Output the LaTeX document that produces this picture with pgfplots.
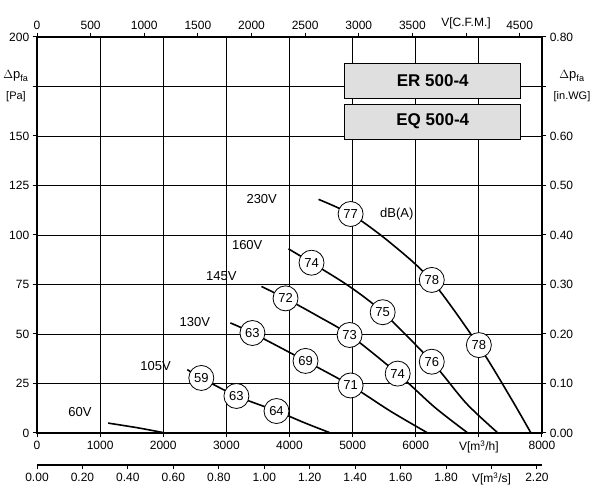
\documentclass[border=0pt]{standalone}
\usepackage{fontspec}
\setmainfont{Liberation Sans}
\usepackage{pgfplots}
\pgfplotsset{compat=1.18}
\begin{document}
\begin{tikzpicture}
\useasboundingbox (0,0) rectangle (600pt,500pt);
\pgfplotsset{every axis/.append style={scale only axis,width=505pt,height=396pt,
  /pgf/number format/assume math mode=true, tick label style={font=\fontsize{12}{13}\selectfont}, tick style={black,line width=1pt}}}
% main axis
\begin{axis}[at={(37pt,67pt)},anchor=south west,
  xmin=0,xmax=8000,ymin=0,ymax=200,
  xtick={0,1000,...,8000}, xticklabels={0,1000,2000,3000,4000,5000,6000,{V[m\textsuperscript{3}/h]},8000},
  ytick={0,25,...,200}, yticklabels={0,25,50,75,100,125,150,,200},
  xtick pos=bottom, ytick pos=left, unbounded coords=jump,
  axis line style={line width=1.2pt}, tick align=outside,
  clip=false]
\addplot[black,line width=0.9pt] coordinates {(1000,0)(1000,200) (nan,nan) (2000,0)(2000,200) (nan,nan) (3000,0)(3000,200) (nan,nan) (4000,0)(4000,200) (nan,nan) (5000,0)(5000,200) (nan,nan) (6000,0)(6000,200) (nan,nan) (7000,0)(7000,200)};
\addplot[black,line width=0.9pt] coordinates {(0,25)(8000,25) (nan,nan) (0,50)(8000,50) (nan,nan) (0,75)(8000,75) (nan,nan) (0,100)(8000,100) (nan,nan) (0,125)(8000,125) (nan,nan) (0,150)(8000,150) (nan,nan) (0,175)(8000,175)};
\addplot[line width=1.6pt,smooth] coordinates {(4460,118)(5000,110)(5600,96)(6250,77)(7000,44)(7500,18)(7825,0)};
\addplot[line width=1.6pt,smooth] coordinates {(3984,93)(4349,86)(4950,74)(5476,61)(6254,36)(6800,15)(7302,0)};
\addplot[line width=1.6pt,smooth] coordinates {(3556,74)(3937,68)(4450,59)(4952,49.5)(5714,30)(6300,13)(6825,0)};
\addplot[line width=1.6pt,smooth] coordinates {(3063,55.6)(3413,50.5)(4254,36.4)(4968,24)(5600,11)(6190,0)};
\addplot[line width=1.6pt,smooth] coordinates {(2381,32)(2603,27.8)(3159,18.7)(3794,11.1)(4250,5)(4651,0)};
\addplot[line width=1.6pt,smooth] coordinates {(1127,5)(1600,2.6)(2032,0)};
\addplot[only marks, mark=*, mark size=12.5pt, mark options={fill=white,draw=black,line width=0.8pt},
  nodes near coords, point meta=explicit symbolic, nodes near coords align={center},
  every node near coord/.append style={font=\fontsize{13}{13}\selectfont}]
  table[meta=l] {
x y l
4968 110.6 77
6254 77.3 78
7000 44.4 78
4349 86 74
5476 61 75
6254 36 76
3937 68 72
4952 49.5 73
5714 30 74
3413 50.5 63
4254 36.4 69
4968 24 71
2603 27.8 59
3159 18.7 63
3794 11.1 64
};
\node[font=\fontsize{13}{13}\selectfont] at (axis cs:3560,118) {230V};
\node[font=\fontsize{13}{13}\selectfont] at (axis cs:3330,95) {160V};
\node[font=\fontsize{13}{13}\selectfont] at (axis cs:2920,79) {145V};
\node[font=\fontsize{13}{13}\selectfont] at (axis cs:2500,56) {130V};
\node[font=\fontsize{13}{13}\selectfont] at (axis cs:1880,34) {105V};
\node[font=\fontsize{13}{13}\selectfont] at (axis cs:680,10.5) {60V};
\node[font=\fontsize{13}{13}\selectfont,anchor=west] at (axis cs:5380,110.6) {dB(A)};
\node[draw,fill=gray!25,line width=0.8pt,minimum width=176pt,minimum height=35pt,font=\bfseries\fontsize{17}{17}\selectfont] at (axis cs:6270,178) {ER 500-4};
\node[draw,fill=gray!25,line width=0.8pt,minimum width=176pt,minimum height=35pt,font=\bfseries\fontsize{17}{17}\selectfont] at (axis cs:6270,157.3) {EQ 500-4};
\end{axis}
% right axis
\begin{axis}[at={(37pt,67pt)},anchor=south west, xmin=0,xmax=8000,ymin=0,ymax=0.8,
  axis y line*=right, hide x axis, ytick={0,0.1,...,0.8},
  yticklabels={0.00,0.10,0.20,0.30,0.40,0.50,0.60,,0.80}, tick align=outside,
  axis line style={line width=1.2pt}]
\end{axis}
% top axis
\begin{axis}[at={(37pt,67pt)},anchor=south west, xmin=0,xmax=4708.6,ymin=0,ymax=1,
  axis x line*=top, hide y axis, xtick={0,500,...,4500}, tick align=outside,
  axis line style={line width=1.2pt},
  xticklabels={0,500,1000,1500,2000,2500,3000,3500,{V[C.F.M.]},4500}]
\end{axis}
% second bottom axis m3/s
\begin{axis}[at={(37pt,35pt)},anchor=south west, height=1pt, xmin=0,xmax=2.2222,ymin=0,ymax=1,
  axis x line*=bottom, hide y axis, xtick={0,0.2,...,2.2}, tick align=outside,
  axis line style={line width=1.2pt},
  xticklabels={0.00,0.20,0.40,0.60,0.80,1.00,1.20,1.40,1.60,1.80,{V[m\textsuperscript{3}/s]},2.20}]
\end{axis}
\node[font=\fontsize{13}{13}\selectfont] at (16pt,424pt) {$\Delta$p\textsubscript{fa}};
\node[font=\fontsize{11}{11}\selectfont] at (16pt,403pt) {[Pa]};
\node[font=\fontsize{13}{13}\selectfont] at (572pt,424pt) {$\Delta$p\textsubscript{fa}};
\node[font=\fontsize{11}{11}\selectfont] at (572pt,403pt) {[in.WG]};
\end{tikzpicture}
\end{document}
